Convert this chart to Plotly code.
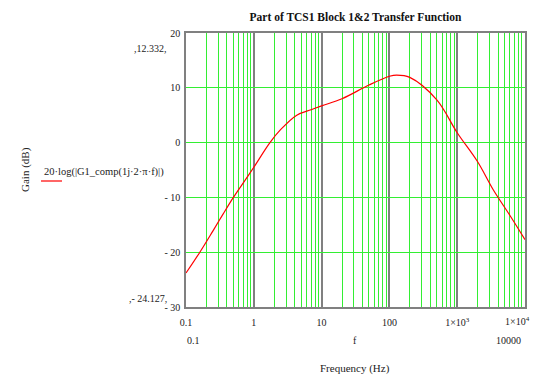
import plotly.graph_objects as go

freq = [0.1, 0.16, 0.25, 0.35, 0.5, 0.75, 1, 1.73, 2.5, 4.3, 7, 10, 20, 50, 100, 128, 200, 500, 1000, 2000, 3400, 6000, 10000]
gain = [-23.8, -20.0, -16.1, -13.1, -10.0, -6.8, -4.5, 0.0, 2.4, 5.0, 6.0, 6.7, 8.0, 10.5, 12.1, 12.33, 11.9, 7.8, 1.8, -3.5, -8.6, -13.3, -17.7]

xtick_vals = [0.1, 1, 10, 100, 1000, 10000]
xtick_text = ["0.1", "1", "10", "100", "1×10<sup>3</sup>", ""]
last_xtick = "1×10<sup>4</sup>"
ytick_vals = [-30, -20, -10, 0, 10, 20]
ytick_text = ["- 30", "- 20", "- 10", "0", "10", "20"]
minor_x = [m * d for d in [0.1, 1, 10, 100, 1000] for m in range(2, 10)]

FONT = "Liberation Serif, Times New Roman, serif"
OFF = 8  # browser body margin
W, H = 539 - OFF, 381 - OFF
L, R, T, B = 186 - OFF, 525 - OFF, 33 - OFF, 307 - OFF

def px(x):
    return (x - OFF - L) / (R - L)

def py(y):
    return (B - (y - OFF)) / (B - T)

fig = go.Figure()
fig.add_trace(go.Scatter(x=freq, y=gain, mode="lines", line=dict(color="#ff0000", width=1.2, shape="spline"),
                         showlegend=False, hoverinfo="skip"))

fig.update_layout(
    width=W, height=H,
    margin=dict(l=L, r=W - R, t=T, b=H - B, autoexpand=False),
    paper_bgcolor="white", plot_bgcolor="white",
    font=dict(family=FONT, size=10, color="#222"),
    title=dict(text="<b>Part of TCS1 Block 1&2 Transfer Function</b>", x=(355.5 - OFF) / W, xanchor="center",
               y=1 - (17 - OFF) / H, yanchor="middle", font=dict(family=FONT, size=11.5, color="#111")),
    xaxis=dict(type="log", range=[-1, 4], tickvals=xtick_vals, ticktext=xtick_text, ticks="",
               showgrid=True, gridcolor="#808080", gridwidth=1.5, zeroline=False,
               showline=True, linecolor="#808080", linewidth=1.5, mirror=True,
               ticklabelstandoff=5, automargin=False,
               minor=dict(tickvals=minor_x, showgrid=True, gridcolor="#33ee33", gridwidth=1, ticks="")),
    yaxis=dict(range=[-30, 20], tickvals=ytick_vals, ticktext=ytick_text, ticks="",
               showgrid=True, gridcolor="#33ee33", gridwidth=1, zeroline=False,
               showline=True, linecolor="#808080", linewidth=1.5, mirror=True,
               ticklabelstandoff=2, automargin=False),
)

ann = [
    dict(text=",12.332,", x=150, y=48),
    dict(text=",- 24.127,", x=148, y=298),
    dict(text="0.1", x=193, y=340),
    dict(text="f", x=355, y=340),
    dict(text="10000", x=508, y=340),
    dict(text="Frequency (Hz)", x=355, y=368, size=11),
    dict(text="20·log(|G1_comp(1j·2·π·f)|)", x=104, y=172, size=10.5),
]
for a in ann:
    fig.add_annotation(text=a["text"], x=px(a["x"]), y=py(a["y"]), xref="paper", yref="paper",
                       showarrow=False, xanchor="center", yanchor="middle",
                       font=dict(family=FONT, size=a.get("size", 10), color="#222"))
fig.add_annotation(text=last_xtick, x=px(532), y=py(321), xref="paper", yref="paper",
                   showarrow=False, xanchor="right", yanchor="middle",
                   font=dict(family=FONT, size=10, color="#222"))
fig.add_annotation(text="Gain (dB)", x=px(25), y=py(170), xref="paper", yref="paper",
                   showarrow=False, textangle=-90, xanchor="center", yanchor="middle",
                   font=dict(family=FONT, size=11, color="#222"))
fig.add_shape(type="line", xref="paper", yref="paper", x0=px(41), x1=px(62),
              y0=py(181), y1=py(181), line=dict(color="#ff0000", width=1.2))

fig.write_html("out.html")
